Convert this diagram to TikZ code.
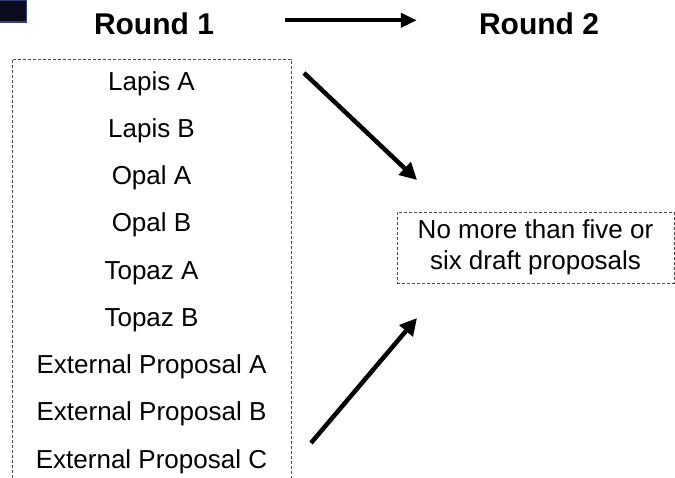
\documentclass[tikz,border=0pt]{standalone}
\usepackage{fontspec}
\setmainfont{Liberation Sans}
\usepackage{tikz}
\usetikzlibrary{positioning}
\usetikzlibrary{arrows.meta}

\begin{document}
\begin{tikzpicture}[x=1pt, y=-1pt,
    dashbox/.style={draw=gray!60!black, line width=0.9pt, dash pattern=on 3pt off 2pt, rectangle},
    item/.style={anchor=base, inner sep=0pt, font=\fontsize{26}{30}\selectfont},
    title/.style={anchor=base, inner sep=0pt, font=\fontsize{30}{36}\selectfont\bfseries},
    arr/.style={-{Triangle[length=17pt, width=17pt]}, line width=4.5pt}]
              \useasboundingbox (0,0) rectangle (675,477);
              \clip (0,0) rectangle (675,477);
              % Nodes
              \node[fill={rgb,255:red,12;green,12;blue,32}, draw={rgb,255:red,50;green,62;blue,125}, line width=1.5pt, minimum width=27pt, minimum height=22pt, inner sep=0pt] (logo) at (13,11) {};
              \node[title] (r1) at (154,34) {Round 1};
              \node[title] (r2) at (539,34) {Round 2};
              \node[dashbox, minimum width=279pt, minimum height=441pt, inner sep=0pt] (list) at (151.5,279.5) {};
              \foreach \name [count=\i] in {Lapis A, Lapis B, Opal A, Opal B, Topaz A, Topaz B,
                  External Proposal A, External Proposal B, External Proposal C}
                \node[item] (l\i) at (151.5,{42.75+47.25*\i}) {\name};
              \node[dashbox, minimum width=277pt, minimum height=71pt, inner sep=0pt, align=center,
                    font=\fontsize{26}{31}\selectfont] (drafts) at (535.5,247.5) {No more than five or\\six draft proposals};
              \coordinate (s1) at (304,73);
              \coordinate (e1) at (417,180);
              \coordinate (s2) at (311,443);
              \coordinate (e2) at (417,318);

              % Arrows
              \draw[-{Triangle[length=16pt, width=14pt]}, line width=4pt, shorten <=71pt, shorten >=62pt] ([yshift=3pt]r1.east) -- ([yshift=3pt]r2.west);
              \draw[arr] (s1) -- (e1);
              \draw[arr] (s2) -- (e2);
            \end{tikzpicture}
\end{document}
